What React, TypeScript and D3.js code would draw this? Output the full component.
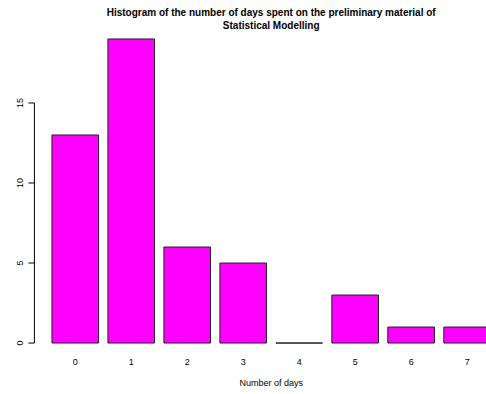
import React, { useEffect } from "react";
import * as d3 from "d3";

const categories = ["0", "1", "2", "3", "4", "5", "6", "7"];
const counts = [13, 19, 6, 5, 0, 3, 1, 1];
const yTicks = [0, 5, 10, 15];

const W = 486;
const H = 394;
const FONT = "'Liberation Sans', Arial, Helvetica, sans-serif";

// R-style barplot geometry: width 1, space 0.2, axes extended by 4%
const space = 0.2;
const barW = 1;
const xMaxUnits = categories.length * (barW + space);
const xPad = (xMaxUnits - space) * 0.04;
const yMax = d3.max(counts) as number;
const yPad = yMax * 0.04;

const plotLeft = 34.4;
const plotRight = 508;
const plotTop = 26.8;
const plotBottom = 355.2;

const x = d3
  .scaleLinear()
  .domain([space - xPad, xMaxUnits + xPad])
  .range([plotLeft, plotRight]);
const y = d3
  .scaleLinear()
  .domain([-yPad, yMax + yPad])
  .range([plotBottom, plotTop]);

export default function App() {
  useEffect(() => {
    document.body.style.margin = "0";
  }, []);

  const titleX = (plotLeft + plotRight) / 2;
  const axisX = plotLeft;

  return (
    <svg
      width={W}
      height={H}
      viewBox={`0 0 ${W} ${H}`}
      style={{ display: "block", background: "#fff", fontFamily: FONT }}
    >
      <text
        x={titleX}
        y={16}
        textAnchor="middle"
        fontWeight="bold"
        fontSize={10}
        fill="#000"
      >
        Histogram of the number of days spent on the preliminary material of
      </text>
      <text
        x={titleX}
        y={28.5}
        textAnchor="middle"
        fontWeight="bold"
        fontSize={10}
        fill="#000"
      >
        Statistical Modelling
      </text>

      {counts.map((v, i) => {
        const x0 = x(space + i * (barW + space));
        const x1 = x(space + i * (barW + space) + barW);
        const yTop = y(v);
        const yBase = y(0);
        // closed path so zero-height bars still draw their outline
        const p = d3.path();
        p.moveTo(x0, yBase);
        p.lineTo(x0, yTop);
        p.lineTo(x1, yTop);
        p.lineTo(x1, yBase);
        p.closePath();
        return (
          <path
            key={categories[i]}
            d={p.toString()}
            fill="#ff00ff"
            stroke="#222"
            strokeWidth={1}
          />
        );
      })}

      {categories.map((c, i) => (
        <text
          key={c}
          x={x(space + i * (barW + space) + barW / 2)}
          y={365}
          textAnchor="middle"
          fontSize={9}
          fill="#000"
        >
          {c}
        </text>
      ))}

      <line
        x1={axisX}
        x2={axisX}
        y1={y(yTicks[0])}
        y2={y(yTicks[yTicks.length - 1])}
        stroke="#000"
        strokeWidth={1}
      />
      {yTicks.map((t) => (
        <g key={t}>
          <line
            x1={axisX - 6}
            x2={axisX}
            y1={y(t)}
            y2={y(t)}
            stroke="#000"
            strokeWidth={1}
          />
          <text
            transform={`translate(${axisX - 11},${y(t)}) rotate(-90)`}
            textAnchor="middle"
            fontSize={9}
            fill="#000"
          >
            {t}
          </text>
        </g>
      ))}

      <text
        x={titleX}
        y={386}
        textAnchor="middle"
        fontSize={9}
        fill="#000"
      >
        Number of days
      </text>
    </svg>
  );
}
